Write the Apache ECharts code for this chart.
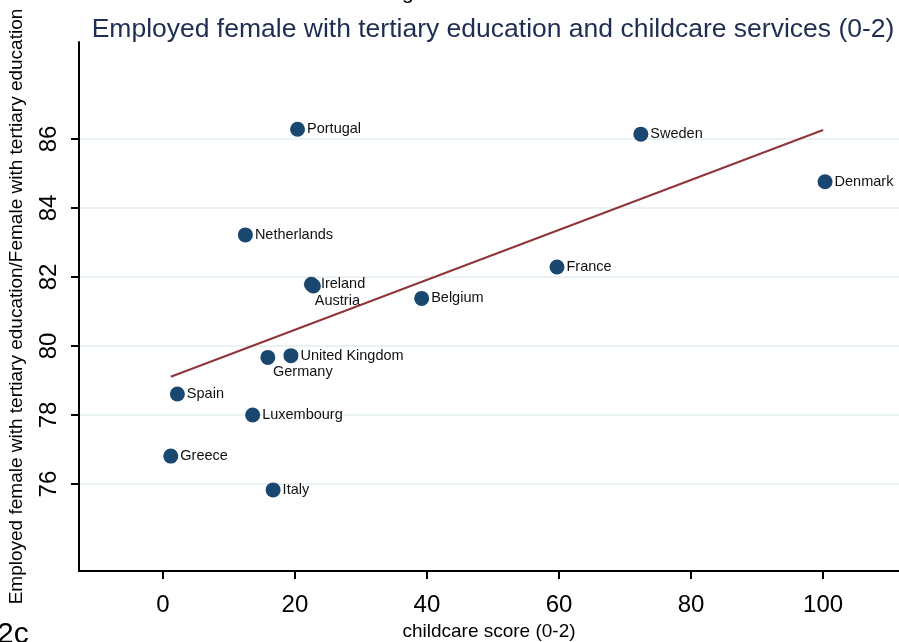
<!DOCTYPE html>
<html>
<head>
<meta charset="utf-8">
<script src="https://cdn.jsdelivr.net/npm/echarts@6/dist/echarts.min.js"></script>
<style>
  html, body { margin: 0; padding: 0; background: #fff; }
  #chart { width: 899px; height: 642px; }
</style>
</head>
<body>
<div id="chart"></div>
<script>
// Countries, childcare score (0-2) and employment share of tertiary-educated women
const countries = ['Portugal', 'Netherlands', 'Sweden', 'Denmark', 'France', 'Ireland', 'Austria',
  'Belgium', 'United Kingdom', 'Germany', 'Spain', 'Luxembourg', 'Greece', 'Italy'];
const childcareScore = [20.4, 12.5, 72.4, 100.3, 59.7, 22.5, 22.8, 39.2, 19.4, 15.9, 2.2, 13.6, 1.2, 16.7];
const employedShare = [86.28, 83.22, 86.14, 84.76, 82.29, 81.79, 81.74, 81.38, 79.72, 79.67, 78.61, 78.0, 76.81, 75.83];

// Linear fit endpoints
const fitX = [1.2, 100.0];
const fitY = [79.11, 86.26];

const yTicks = [76, 78, 80, 82, 84, 86];
const xTicks = [0, 20, 40, 60, 80, 100];

// Labels placed below the marker instead of to its right
const belowLabels = {
  'Austria': [24, -4],
  'Germany': [35, -4]
};

const navy = '#1a476f';
const maroon = '#90353b';
const font = '"Liberation Sans", Arial, sans-serif';

const points = countries.map((name, i) => {
  const item = { name: name, value: [childcareScore[i], employedShare[i]] };
  if (belowLabels[name]) {
    item.label = { position: 'bottom', offset: belowLabels[name], distance: 4 };
  }
  return item;
});

const chart = echarts.init(document.getElementById('chart'), null, { renderer: 'canvas' });

chart.setOption({
  animation: false,
  backgroundColor: '#ffffff',
  title: {
    text: 'Employed female with tertiary education and childcare services (0-2)',
    left: 488,
    textAlign: 'center',
    top: 11,
    textStyle: { color: '#1f2d52', fontSize: 26.5, fontWeight: 'normal', fontFamily: font }
  },
  graphic: [
    { type: 'text', left: -3, top: 620, style: { text: '2c', fontSize: 30, fill: '#000', fontFamily: font } },
    { type: 'text', left: 402, top: -17, style: { text: 'g', fontSize: 21, fill: '#000', fontFamily: font } }
  ],
  grid: { left: 79, top: 42, right: 0, bottom: 71, containLabel: false, outerBoundsMode: 'none' },
  xAxis: {
    type: 'value',
    min: -12.7,
    max: 111.5,
    name: 'childcare score (0-2)',
    nameLocation: 'middle',
    nameGap: 51,
    nameTextStyle: { fontSize: 19, color: '#000', fontFamily: font },
    axisLine: { show: true, onZero: false, lineStyle: { color: '#000', width: 2 } },
    axisTick: { show: true, length: 8, lineStyle: { color: '#000', width: 2 }, customValues: xTicks },
    axisLabel: { fontSize: 24, color: '#000', fontFamily: font, margin: 22, customValues: xTicks },
    splitLine: { show: false }
  },
  yAxis: {
    type: 'value',
    min: 73.48,
    max: 88.81,
    name: 'Employed female with tertiary education/Female with tertiary education',
    nameLocation: 'middle',
    nameGap: 53,
    nameRotate: 90,
    nameTextStyle: { fontSize: 19, color: '#000', fontFamily: font },
    axisLine: { show: true, onZero: false, lineStyle: { color: '#000', width: 2 } },
    axisTick: { show: true, length: 8, lineStyle: { color: '#000', width: 2 }, customValues: yTicks },
    axisLabel: { fontSize: 24, color: '#000', fontFamily: font, rotate: 90, margin: 18, customValues: yTicks },
    splitLine: { show: true, lineStyle: { color: '#eaf2f3', width: 2 } }
  },
  series: [
    {
      type: 'line',
      data: fitX.map((x, i) => [x, fitY[i]]),
      symbol: 'none',
      lineStyle: { color: maroon, width: 2 },
      z: 2
    },
    {
      type: 'scatter',
      data: points,
      symbol: 'circle',
      symbolSize: 15,
      itemStyle: { color: navy, opacity: 1 },
      label: {
        show: true,
        position: 'right',
        distance: 2,
        formatter: p => p.name,
        fontSize: 14.5,
        color: '#111',
        fontFamily: font
      },
      z: 3
    }
  ]
});
</script>
</body>
</html>
